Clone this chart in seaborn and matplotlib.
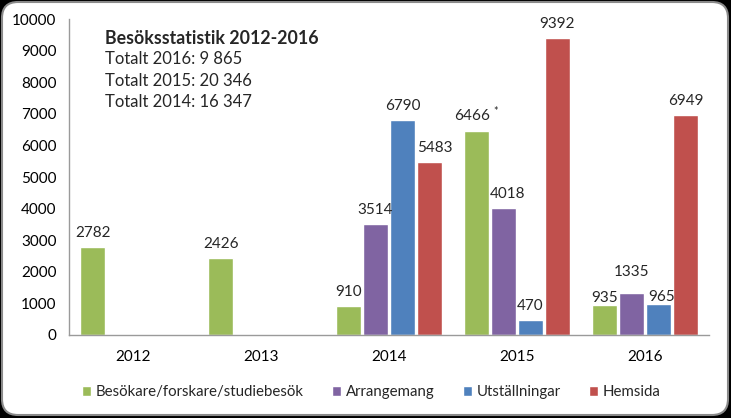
import pandas as pd
import matplotlib.pyplot as plt
import seaborn as sns
from matplotlib.patches import FancyBboxPatch

# Data
years = ['2012', '2013', '2014', '2015', '2016']
series = ['Besökare/forskare/studiebesök', 'Arrangemang', 'Utställningar', 'Hemsida']
besokare = [2782, 2426, 910, 6466, 935]
arrangemang = [None, None, 3514, 4018, 1335]
utstallningar = [None, None, 6790, 470, 965]
hemsida = [None, None, 5483, 9392, 6949]
colors = ['#9BBB59', '#8064A2', '#4F81BD', '#C0504D']

title = 'Besöksstatistik 2012-2016'
totals = ['Totalt 2016: 9 865', 'Totalt 2015: 20 346', 'Totalt 2014: 16 347']

# long form table for seaborn
rows = []
for name, vals in zip(series, [besokare, arrangemang, utstallningar, hemsida]):
    for y, v in zip(years, vals):
        if v is not None:
            rows.append({'year': y, 'serie': name, 'value': v})
df = pd.DataFrame(rows)

sns.set_style('white')
plt.rcParams['font.family'] = ['Lato', 'DejaVu Sans']
plt.rcParams['mathtext.default'] = 'regular'

fig = plt.figure(figsize=(7.31, 4.18), dpi=100)
fig.patch.set_facecolor('black')
frame = FancyBboxPatch((0.02, 0.03), 7.26, 4.13, boxstyle='round,pad=0,rounding_size=0.16',
                       transform=fig.dpi_scale_trans, facecolor='white',
                       edgecolor='#8a8a8a', linewidth=1.5, zorder=-10)
fig.patches.append(frame)

ax = fig.add_axes([0.0944, 0.1986, 0.8756, 0.7559])
ax.set_facecolor('none')
sns.barplot(data=df, x='year', y='value', hue='serie', order=years, hue_order=series,
            palette=colors, width=0.84, gap=0.07, saturation=1, ax=ax)

ax.set_ylim(0, 10000)
ax.set_yticks(range(0, 10001, 1000))
ax.set_xlabel('')
ax.set_ylabel('')
ax.tick_params(axis='both', length=0, labelsize=11, colors='black')
ax.tick_params(axis='y', pad=9)
ax.tick_params(axis='x', pad=11)
for side in ['top', 'right']:
    ax.spines[side].set_visible(False)
for side in ['left', 'bottom']:
    ax.spines[side].set_color('#9a9a9a')
    ax.spines[side].set_linewidth(1)

# data labels, a few nudged like in the original
nudge = {(1, '2016'): (0, 5), (0, '2016'): (0, -5), (2, '2016'): (2, -5),
         (3, '2014'): (4, 0), (1, '2015'): (3, 0)}
for i, cont in enumerate(ax.containers):
    vals = [besokare, arrangemang, utstallningar, hemsida][i]
    present = [y for y, v in zip(years, vals) if v is not None]
    for bar, y in zip(cont, present):
        h = bar.get_height()
        txt = f'{int(h)}'
        if i == 0 and y == '2015':
            txt = txt + ' $^{*}$'
        dx, dy = nudge.get((i, y), (0, 0))
        ax.annotate(txt, (bar.get_x() + bar.get_width() / 2, h), xytext=(dx, 5 + dy),
                    textcoords='offset points', ha='center', va='bottom', fontsize=11)

handles, labels = ax.get_legend_handles_labels()
ax.legend_.remove()
fig.legend(handles, labels, loc='center', bbox_to_anchor=(0.508, 0.062), ncol=4,
           frameon=False, fontsize=10.8, handlelength=0.6, handleheight=0.6,
           handletextpad=0.3, columnspacing=1.9)

fig.text(105 / 731, 1 - 38 / 418, title, fontsize=12.8, fontweight='bold', va='center')
for k, line in enumerate(totals):
    fig.text(105 / 731, 1 - (59 + 21.5 * k) / 418, line, fontsize=12, va='center')

fig.savefig('out.png', dpi=100, facecolor=fig.get_facecolor())
